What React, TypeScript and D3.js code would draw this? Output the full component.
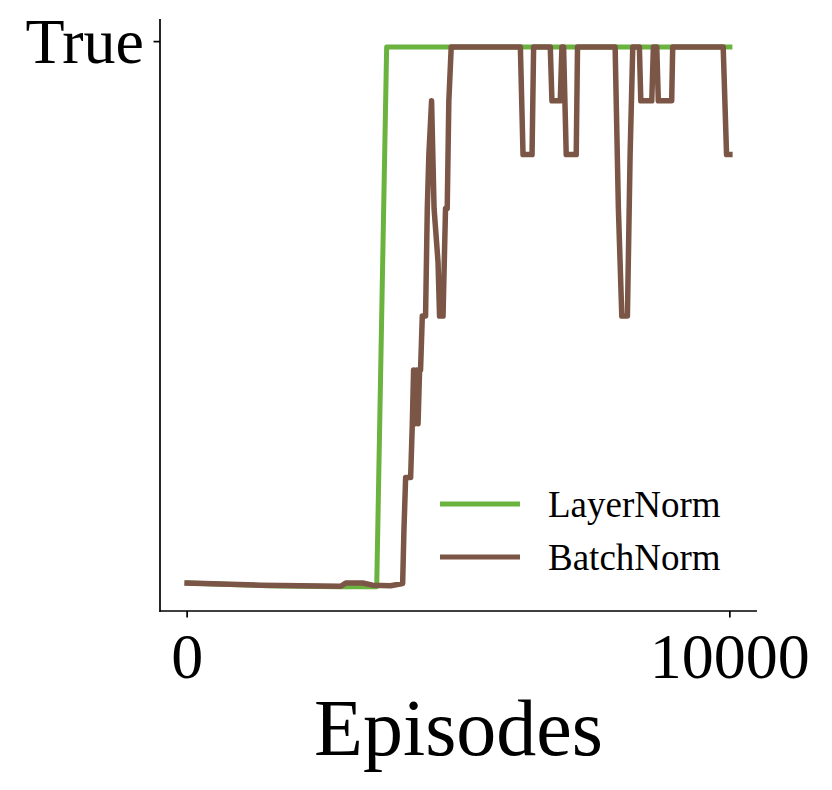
import React from "react";
import * as d3 from "d3";

// Data (episodes, value where 1 = True)
const layerEpisodes = [0, 1500, 2800, 3493, 3676, 10000];
const layerValues = [0.004, -0.001, -0.003, -0.003, 1.0, 1.0];

const batchEpisodes = [
  0, 1360, 2831, 2923, 3235, 3419, 3750, 3971, 3994, 4026, 4118, 4149, 4173, 4200,
  4228, 4255, 4283, 4301, 4333, 4393, 4425, 4454, 4504, 4550, 4623, 4651, 4715,
  4761, 4792, 4822, 4866, 6140, 6189, 6355, 6384, 6691, 6722, 6875, 6906, 6936,
  6985, 7169, 7193, 7886, 7946, 8009, 8112, 8162, 8211, 8333, 8359, 8561, 8591,
  8653, 8682, 8928, 8947, 9877, 9939, 10000,
];
const batchValues = [
  0.004, 0.0, -0.002, 0.004, 0.004, 0.0, -0.001, 0.003, 0.1, 0.2, 0.2, 0.3, 0.4, 0.3,
  0.4, 0.3, 0.4, 0.4, 0.5, 0.5, 0.7, 0.8, 0.9, 0.7, 0.6, 0.5, 0.5,
  0.7, 0.7, 0.9, 1.0, 1.0, 0.8, 0.8, 1.0, 1.0, 0.9, 0.9, 1.0, 1.0,
  0.8, 0.8, 1.0, 1.0, 0.7, 0.5, 0.5, 0.8, 1.0, 1.0, 0.9, 0.9, 1.0,
  1.0, 0.9, 0.9, 1.0, 1.0, 0.8, 0.8,
];

const xTicks = [0, 10000];
const xTickLabels = ["0", "10000"];
const yTickValue = 1.01;
const yTickLabel = "True";
const seriesNames = ["LayerNorm", "BatchNorm"];
const seriesColors = ["#6bb33f", "#7b5646"];

const W = 832;
const H = 790;
const left = 160;
const right = 757;
const top = 19;
const bottom = 611;
const FONT = "'Liberation Serif', 'DejaVu Serif', 'Times New Roman', serif";

export default function App() {
  const x = d3.scaleLinear().domain([-500, 10500]).range([left, right]);
  const y = d3.scaleLinear().domain([-0.048, 1.052]).range([bottom, top]);

  const line = d3
    .line<[number, number]>()
    .x((d) => x(d[0]))
    .y((d) => y(d[1]));

  const layerData: [number, number][] = layerEpisodes.map((e, i) => [e, layerValues[i]]);
  const batchData: [number, number][] = batchEpisodes.map((e, i) => [e, batchValues[i]]);

  return (
    <svg
      width={W}
      height={H}
      style={{ position: "absolute", left: 0, top: 0, background: "#fff" }}
      fontFamily={FONT}
    >
      <rect x={0} y={0} width={W} height={H} fill="#fff" />
      {/* lines */}
      <path d={line(layerData) || ""} fill="none" stroke={seriesColors[0]} strokeWidth={5} strokeLinejoin="round" strokeLinecap="square" />
      <path d={line(batchData) || ""} fill="none" stroke={seriesColors[1]} strokeWidth={5.5} strokeLinejoin="round" strokeLinecap="square" />

      {/* spines */}
      <line x1={left} x2={left} y1={top} y2={bottom + 0.8} stroke="#000" strokeWidth={1.7} />
      <line x1={left - 0.8} x2={right} y1={bottom} y2={bottom} stroke="#000" strokeWidth={1.7} />

      {/* x ticks */}
      {xTicks.map((t, i) => (
        <g key={t}>
          <line x1={x(t)} x2={x(t)} y1={bottom} y2={bottom + 6.5} stroke="#000" strokeWidth={1.7} />
          <text x={x(t)} y={678} textAnchor="middle" fontSize={64} fill="#000">
            {xTickLabels[i]}
          </text>
        </g>
      ))}

      {/* y tick */}
      <line x1={left - 6.5} x2={left} y1={y(yTickValue)} y2={y(yTickValue)} stroke="#000" strokeWidth={1.7} />
      <text x={left - 16} y={y(yTickValue)} dy="0.34em" textAnchor="end" fontSize={64} fill="#000">
        {yTickLabel}
      </text>

      {/* x label */}
      <text x={(left + right) / 2} y={755} textAnchor="middle" fontSize={80} fill="#000">
        Episodes
      </text>

      {/* legend */}
      {seriesNames.map((n, i) => (
        <g key={n} transform={`translate(0, ${i * 53})`}>
          <line x1={440} x2={520} y1={504} y2={504} stroke={seriesColors[i]} strokeWidth={5} />
          <text x={548} y={517} fontSize={37} fill="#000">
            {n}
          </text>
        </g>
      ))}
    </svg>
  );
}
